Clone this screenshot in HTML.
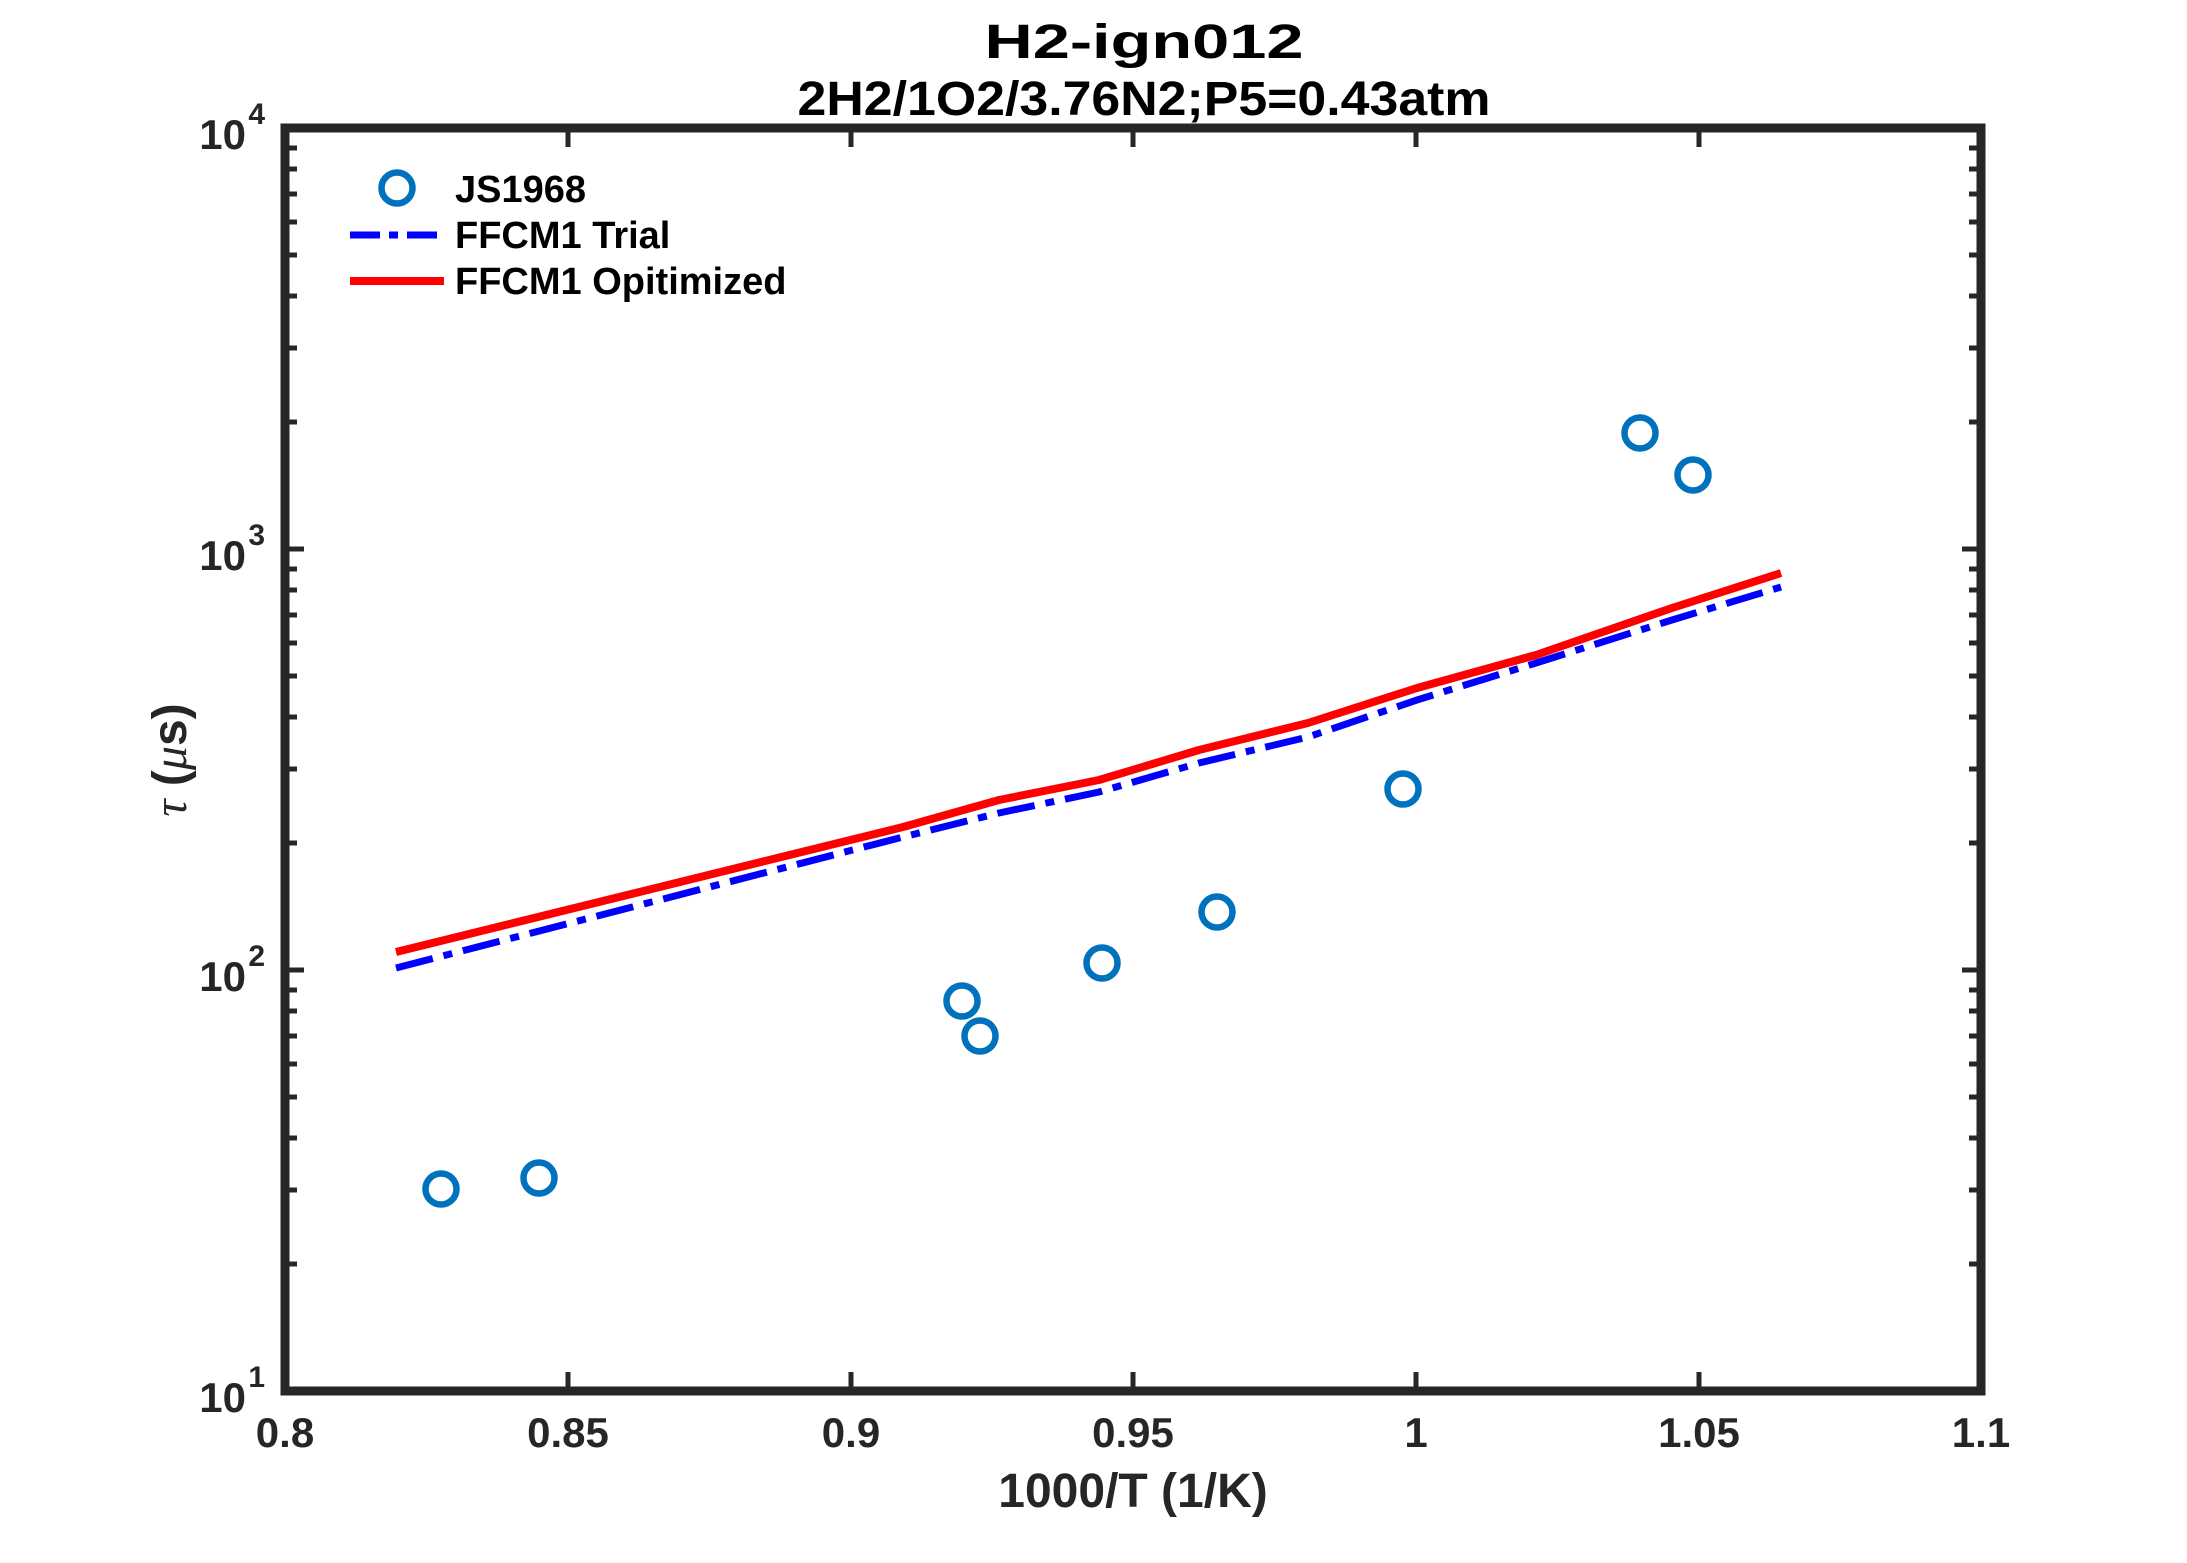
<!DOCTYPE html>
<html><head><meta charset="utf-8"><style>html,body{margin:0;padding:0;background:#fff}svg{display:block}</style></head>
<body>
<svg width="2187" height="1563" viewBox="0 0 2187 1563" xmlns="http://www.w3.org/2000/svg" font-family="Liberation Sans, Arial, sans-serif" font-weight="bold">
<rect width="2187" height="1563" fill="#fff"/>
<text x="1144" y="58" font-size="48" text-anchor="middle" fill="#000" textLength="319" lengthAdjust="spacingAndGlyphs">H2-ign012</text>
<text x="1144" y="115" font-size="48" text-anchor="middle" fill="#000" textLength="693" lengthAdjust="spacingAndGlyphs">2H2/1O2/3.76N2;P5=0.43atm</text>
<polyline fill="none" stroke="#ff0000" stroke-width="8" stroke-linejoin="round" points="396,952 903,827 999,800 1099,780 1199,750 1308,723 1417,688 1536,655 1672,608 1781,573"/>
<polyline fill="none" stroke="#0000ff" stroke-width="7" stroke-dasharray="38 11 9 11" points="396,968 903,837 999,813 1099,792 1199,763 1308,737 1417,700 1536,663 1672,620 1781,587"/>
<g fill="none" stroke="#0072BD" stroke-width="6.5">
<circle cx="441" cy="1189" r="15.5"/>
<circle cx="539" cy="1178" r="15.5"/>
<circle cx="962" cy="1001" r="15.5"/>
<circle cx="980" cy="1036" r="15.5"/>
<circle cx="1102" cy="963" r="15.5"/>
<circle cx="1217" cy="912" r="15.5"/>
<circle cx="1403" cy="789" r="15.5"/>
<circle cx="1640" cy="433" r="15.5"/>
<circle cx="1693" cy="475" r="15.5"/>
</g>
<g stroke="#262626" stroke-width="5">
<path d="M568,1391V1372 M851,1391V1372 M1133,1391V1372 M1416,1391V1372 M1699,1391V1372 M568,128V147 M851,128V147 M1133,128V147 M1416,128V147 M1699,128V147"/>
<path d="M285,549H304 M285,970H304 M1981,549H1962 M1981,970H1962"/>
<path d="
M285,1264H297 M285,1190H297 M285,1138H297 M285,1097H297 M285,1064H297 M285,1036H297 M285,1011H297 M285,990H297
M285,843H297 M285,769H297 M285,717H297 M285,676H297 M285,643H297 M285,615H297 M285,590H297 M285,569H297
M285,422H297 M285,348H297 M285,296H297 M285,255H297 M285,222H297 M285,194H297 M285,169H297 M285,148H297
M1981,1264H1969 M1981,1190H1969 M1981,1138H1969 M1981,1097H1969 M1981,1064H1969 M1981,1036H1969 M1981,1011H1969 M1981,990H1969
M1981,843H1969 M1981,769H1969 M1981,717H1969 M1981,676H1969 M1981,643H1969 M1981,615H1969 M1981,590H1969 M1981,569H1969
M1981,422H1969 M1981,348H1969 M1981,296H1969 M1981,255H1969 M1981,222H1969 M1981,194H1969 M1981,169H1969 M1981,148H1969"/>
</g>
<rect x="285" y="128" width="1696" height="1263" fill="none" stroke="#262626" stroke-width="9"/>
<g font-size="42" fill="#262626" text-anchor="middle">
<text x="285" y="1447">0.8</text>
<text x="568" y="1447">0.85</text>
<text x="851" y="1447">0.9</text>
<text x="1133" y="1447">0.95</text>
<text x="1416" y="1447">1</text>
<text x="1699" y="1447">1.05</text>
<text x="1981" y="1447">1.1</text>
</g>
<g font-size="42" fill="#262626" text-anchor="end">
<text x="246" y="149">10</text><text x="265" y="124" font-size="30">4</text>
<text x="246" y="570">10</text><text x="265" y="545" font-size="30">3</text>
<text x="246" y="991">10</text><text x="265" y="966" font-size="30">2</text>
<text x="246" y="1412">10</text><text x="265" y="1387" font-size="30">1</text>
</g>
<text x="1133" y="1507" font-size="48" fill="#262626" text-anchor="middle">1000/T (1/K)</text>
<text transform="translate(186,760) rotate(-90)" font-size="48" fill="#262626" text-anchor="middle"><tspan font-family="Liberation Serif, serif" font-style="italic" font-weight="normal">τ</tspan> (<tspan font-family="Liberation Serif, serif" font-style="italic" font-weight="normal">μ</tspan>s)</text>
<circle cx="397" cy="188" r="15.5" fill="none" stroke="#0072BD" stroke-width="6.5"/>
<line x1="350" y1="235" x2="444" y2="235" stroke="#0000ff" stroke-width="7" stroke-dasharray="30 9 9 9"/>
<line x1="350" y1="281" x2="444" y2="281" stroke="#ff0000" stroke-width="8"/>
<g font-size="38" fill="#000">
<text x="455" y="202">JS1968</text>
<text x="455" y="248">FFCM1 Trial</text>
<text x="455" y="294">FFCM1 Opitimized</text>
</g>
</svg>
</body></html>
